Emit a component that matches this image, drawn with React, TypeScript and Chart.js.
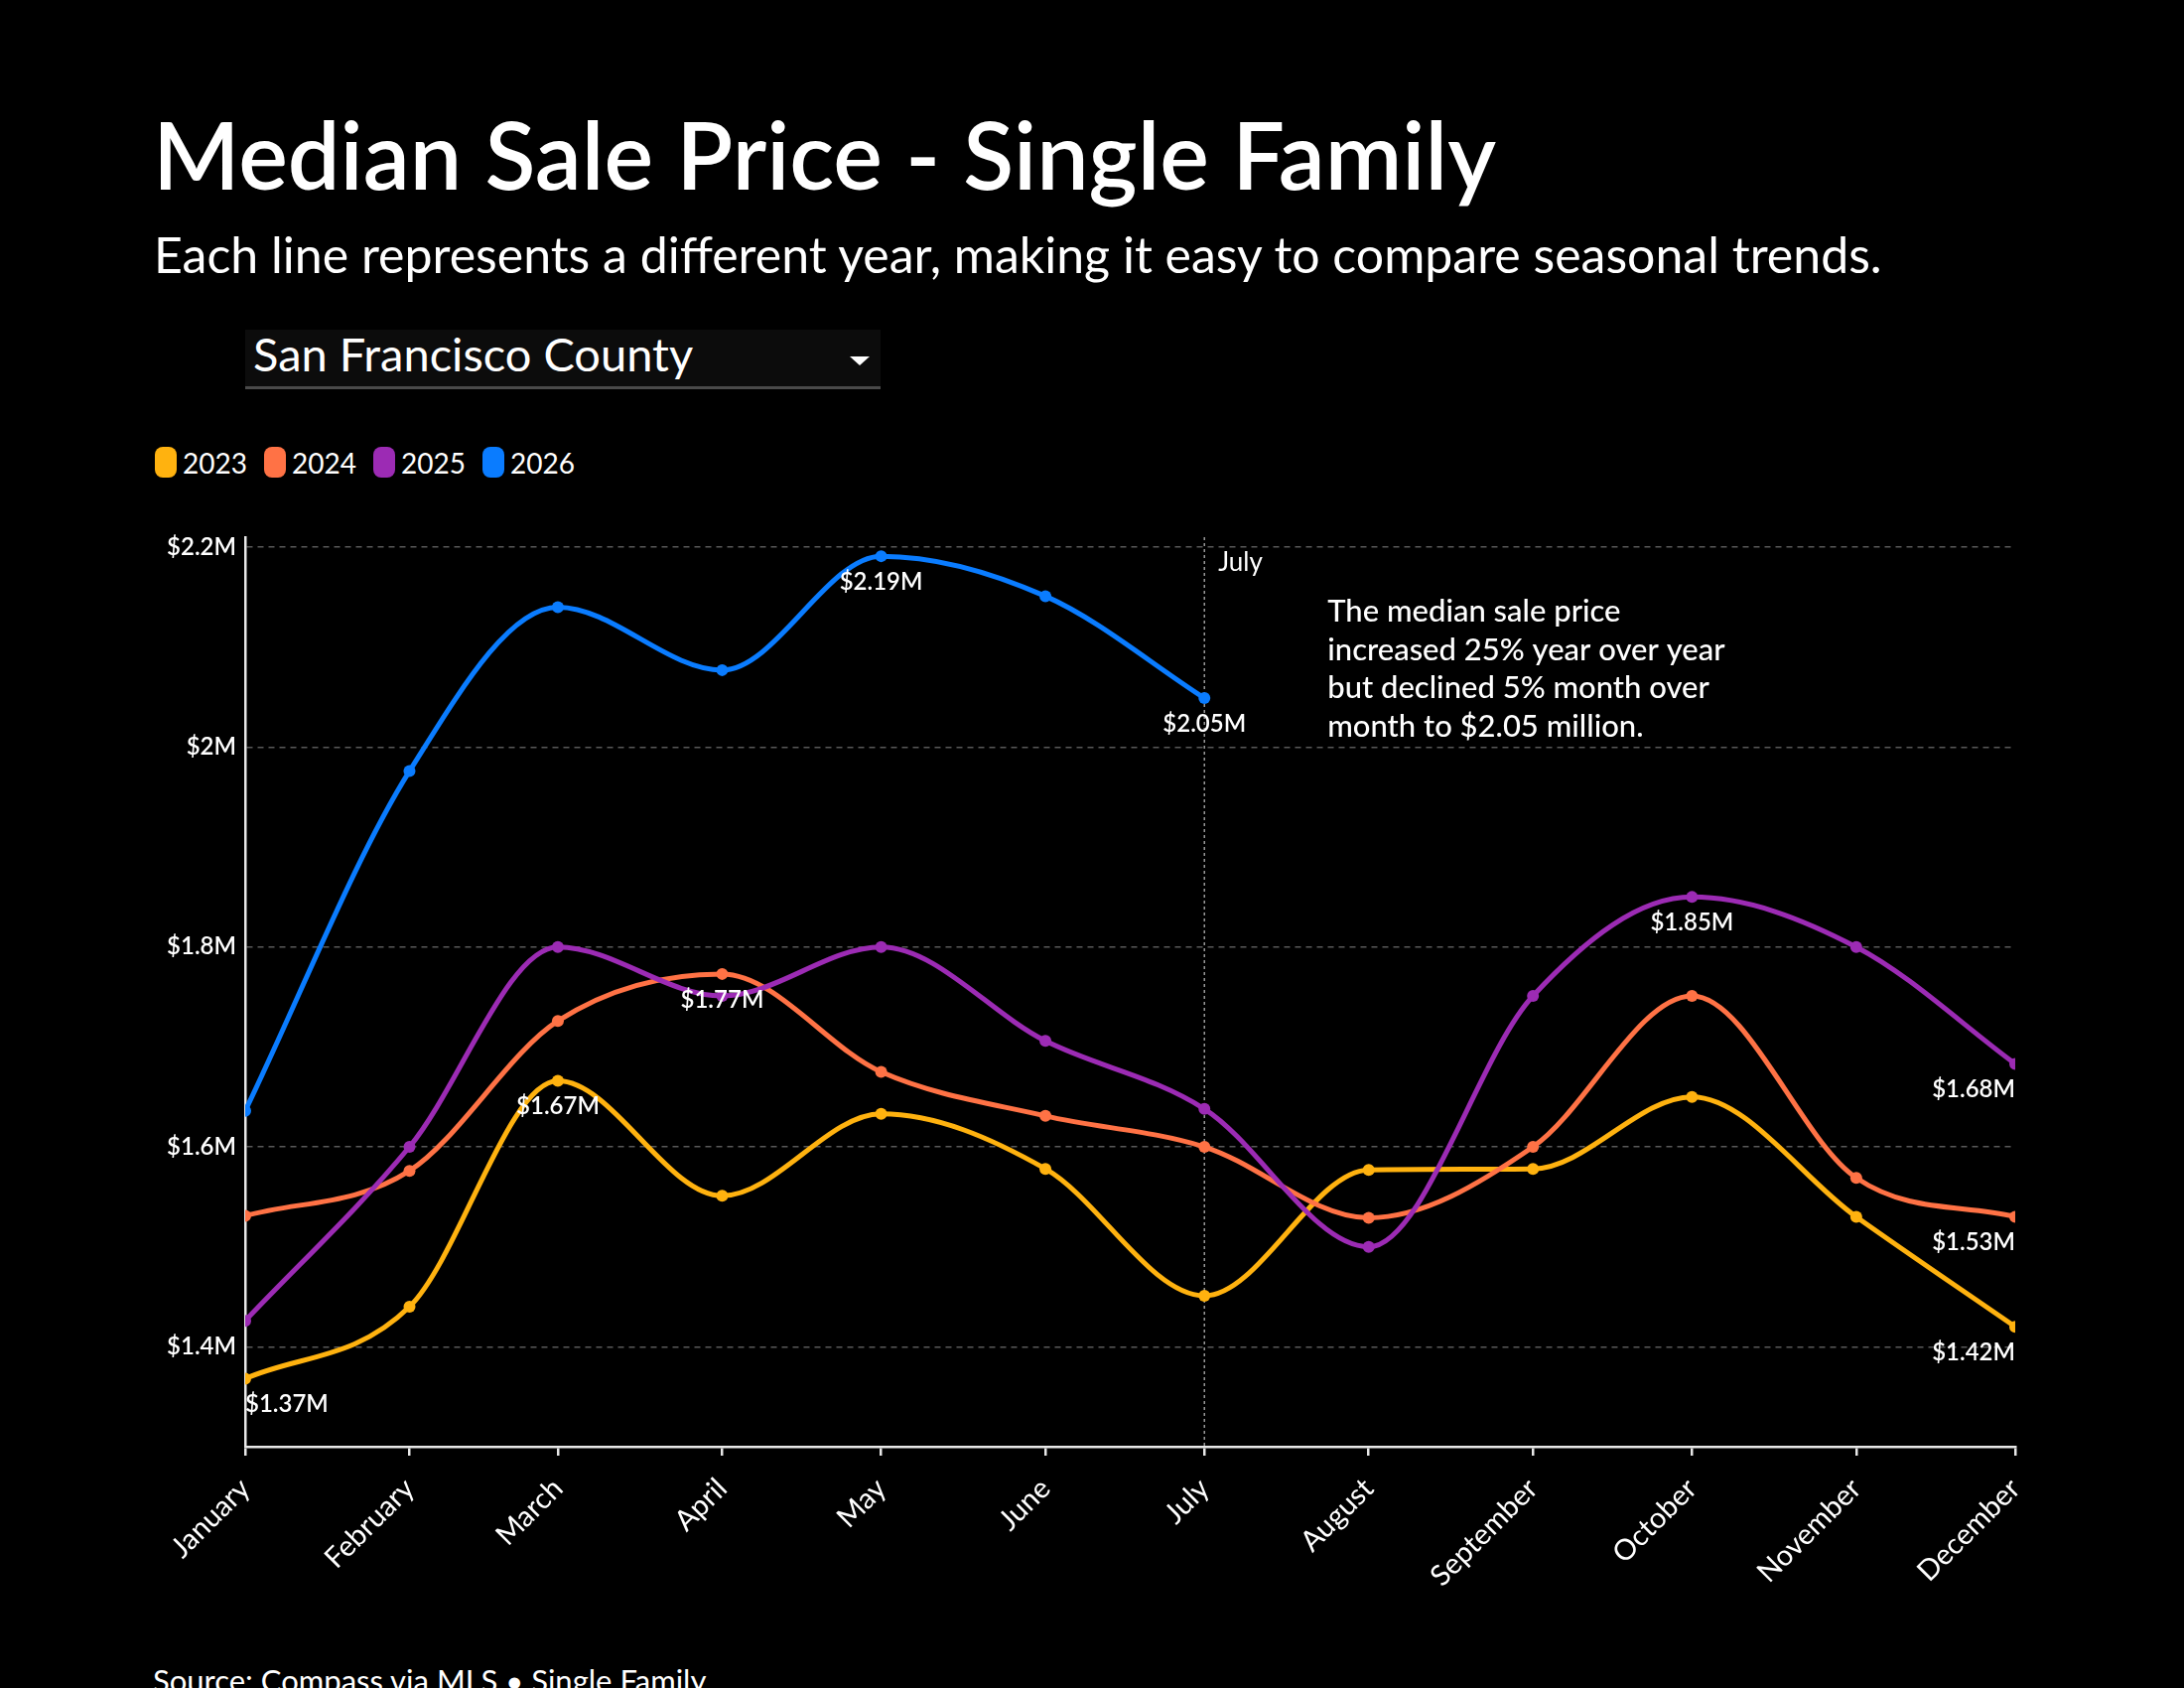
import React, { useEffect, useRef } from 'react';
import { Chart, registerables } from 'chart.js';

Chart.register(...registerables);

const months = [
  'January', 'February', 'March', 'April', 'May', 'June',
  'July', 'August', 'September', 'October', 'November', 'December',
];
// days since Jan 1 for the first of each month (x is a time axis)
const monthDays = [0, 31, 59, 90, 120, 151, 181, 212, 243, 273, 304, 334];
const years = ['2023', '2024', '2025', '2026'];
const colors = ['#FFB20F', '#FF7245', '#9C2BB4', '#0A7CFF'];

// median sale price, $ millions
const values2023 = [1.368, 1.440, 1.666, 1.551, 1.633, 1.578, 1.451, 1.577, 1.578, 1.650, 1.530, 1.420];
const values2024 = [1.531, 1.576, 1.726, 1.773, 1.675, 1.631, 1.600, 1.529, 1.600, 1.751, 1.569, 1.530];
const values2025 = [1.426, 1.600, 1.800, 1.751, 1.800, 1.706, 1.638, 1.500, 1.751, 1.850, 1.800, 1.683];
const values2026 = [1.636, 1.976, 2.140, 2.077, 2.191, 2.151, 2.049, null, null, null, null, null];

// which points carry a value label
const labelled2023 = [0, 2, 11];
const labelled2024 = [3, 11];
const labelled2025 = [9, 11];
const labelled2026 = [4, 6];

const yTicks = [1.4, 1.6, 1.8, 2.0, 2.2];
const yMin = 1.3;
const yMax = 2.21;

const markerIndex = 6; // July
const markerLabel = 'July';
const noteLines = [
  'The median sale price',
  'increased 25% year over year',
  'but declined 5% month over',
  'month to $2.05 million.',
];

const FONT = 'Lato, "Open Sans", sans-serif';

const seriesValues = [values2023, values2024, values2025, values2026];
const seriesLabelled = [labelled2023, labelled2024, labelled2025, labelled2026];

const fmtM = (v: number) => `$${v.toFixed(2)}M`;

const markerPlugin = {
  id: 'julyMarker',
  beforeDatasetsDraw(chart: any) {
    const { ctx, chartArea } = chart;
    const x = chart.scales.x.getPixelForValue(monthDays[markerIndex]);
    ctx.save();
    ctx.strokeStyle = 'rgba(255,255,255,0.6)';
    ctx.lineWidth = 1.5;
    ctx.setLineDash([3, 3]);
    ctx.beginPath();
    ctx.moveTo(x, chartArea.top);
    ctx.lineTo(x, chartArea.bottom);
    ctx.stroke();
    ctx.setLineDash([]);
    ctx.fillStyle = '#fff';
    ctx.textBaseline = 'middle';
    ctx.font = `400 26px ${FONT}`;
    ctx.fillText(markerLabel, x + 14, chartArea.top + 26);
    ctx.font = `500 31px ${FONT}`;
    noteLines.forEach((line, k) => {
      ctx.fillText(line, x + 124, chartArea.top + 75 + k * 38.5);
    });
    ctx.restore();
  },
};

const pointLabelPlugin = {
  id: 'pointLabels',
  afterDatasetsDraw(chart: any) {
    const { ctx, chartArea } = chart;
    ctx.save();
    ctx.font = `600 24px ${FONT}`;
    ctx.fillStyle = '#fff';
    ctx.textBaseline = 'middle';
    chart.data.datasets.forEach((ds: any, i: number) => {
      const meta = chart.getDatasetMeta(i);
      seriesLabelled[i].forEach((j) => {
        const pt = meta.data[j];
        const v = ds.data[j] && ds.data[j].y;
        if (!pt || v == null) return;
        const text = fmtM(v);
        const w = ctx.measureText(text).width;
        let x = pt.x - w / 2;
        x = Math.max(chartArea.left, Math.min(chartArea.right - w, x));
        ctx.fillText(text, x, pt.y + 26);
      });
    });
    ctx.restore();
  },
};

const SalePriceChart: React.FC = () => {
  const canvasRef = useRef<HTMLCanvasElement>(null);
  const chartRef = useRef<Chart | null>(null);

  useEffect(() => {
    if (!canvasRef.current) return;
    const ctx = canvasRef.current.getContext('2d');
    if (!ctx) return;

    chartRef.current = new Chart(ctx, {
      type: 'line',
      data: {
        datasets: years.map((year, i) => ({
          label: year,
          data: seriesValues[i].map((v, j) => ({ x: monthDays[j], y: v })),
          borderColor: colors[i],
          backgroundColor: colors[i],
          pointBackgroundColor: colors[i],
          pointBorderWidth: 0,
          pointRadius: 6,
          borderWidth: 5,
          cubicInterpolationMode: 'monotone' as const,
          spanGaps: false,
          order: years.length - i,
        })),
      },
      options: {
        animation: false,
        responsive: true,
        maintainAspectRatio: false,
        layout: { padding: { top: 41, right: 45, left: 0, bottom: 0 } },
        plugins: {
          legend: { display: false },
          tooltip: { enabled: false },
        },
        scales: {
          x: {
            type: 'linear',
            min: monthDays[0],
            max: monthDays[monthDays.length - 1],
            afterBuildTicks: (axis: any) => {
              axis.ticks = monthDays.map((v) => ({ value: v }));
            },
            afterFit: (axis: any) => { axis.height = 140; },
            border: { display: true, color: '#e8e8e8', width: 2.5 },
            grid: {
              drawOnChartArea: false,
              drawTicks: true,
              tickLength: 9,
              color: '#e8e8e8',
              lineWidth: 2.5,
            },
            ticks: {
              color: '#fff',
              autoSkip: false,
              maxRotation: 45,
              minRotation: 45,
              padding: 16,
              font: { family: FONT, size: 29 },
              callback: (v: any) => {
                const k = monthDays.indexOf(Number(v));
                return k >= 0 ? months[k] : '';
              },
            },
          },
          y: {
            min: yMin,
            max: yMax,
            afterBuildTicks: (axis: any) => {
              axis.ticks = yTicks.map((v) => ({ value: v }));
            },
            afterFit: (axis: any) => { axis.width = 97; },
            border: { display: true, color: '#e8e8e8', width: 2.5, dash: [6, 5] },
            grid: {
              color: 'rgba(255,255,255,0.35)',
              lineWidth: 1.5,
              drawTicks: false,
            },
            ticks: {
              color: '#fff',
              padding: 9,
              font: { family: FONT, size: 24, weight: 600 },
              callback: (v: any) => `$${+Number(v).toFixed(1)}M`,
            },
          },
        },
      },
      plugins: [markerPlugin, pointLabelPlugin],
    });

    return () => {
      if (chartRef.current) {
        chartRef.current.destroy();
        chartRef.current = null;
      }
    };
  }, []);

  return (
    <div style={{ position: 'absolute', left: 150, top: 500, width: 1925, height: 1097 }}>
      <canvas ref={canvasRef}></canvas>
    </div>
  );
};

export default function App() {
  return (
    <div
      style={{
        position: 'relative',
        width: 2200,
        height: 1700,
        background: '#000',
        color: '#fff',
        fontFamily: FONT,
        overflow: 'hidden',
      }}
    >
      <style>{'body{margin:0;background:#000}'}</style>
      <div style={{ position: 'absolute', left: 154, top: 109, fontSize: 93.5, fontWeight: 600, lineHeight: 1, whiteSpace: 'nowrap' }}>
        Median Sale Price - Single Family
      </div>
      <div style={{ position: 'absolute', left: 155, top: 231, fontSize: 50, fontWeight: 400, lineHeight: 1, whiteSpace: 'nowrap' }}>
        Each line represents a different year, making it easy to compare seasonal trends.
      </div>

      <div
        style={{
          position: 'absolute',
          left: 247,
          top: 332,
          width: 640,
          height: 57,
          background: '#0c0c0c',
          borderBottom: '3px solid #4a4a4a',
        }}
      >
        <div style={{ position: 'absolute', left: 8, top: 1, fontSize: 47, lineHeight: 1, whiteSpace: 'nowrap' }}>
          San Francisco County
        </div>
        <div
          style={{
            position: 'absolute',
            left: 609,
            top: 27,
            width: 0,
            height: 0,
            borderLeft: '10px solid transparent',
            borderRight: '10px solid transparent',
            borderTop: '9px solid #fff',
          }}
        />
      </div>

      <div style={{ position: 'absolute', left: 156, top: 450, display: 'flex', alignItems: 'center' }}>
        {years.map((year, i) => (
          <div key={year} style={{ display: 'flex', alignItems: 'center', width: 110 }}>
            <span style={{ display: 'inline-block', width: 22, height: 31, borderRadius: 8, background: colors[i] }} />
            <span style={{ marginLeft: 6, fontSize: 28, lineHeight: 1 }}>{year}</span>
          </div>
        ))}
      </div>

      <SalePriceChart />

      <div style={{ position: 'absolute', left: 154, top: 1677, fontSize: 31, lineHeight: 1, whiteSpace: 'nowrap' }}>
        Source: Compass via MLS • Single Family
      </div>
    </div>
  );
}
